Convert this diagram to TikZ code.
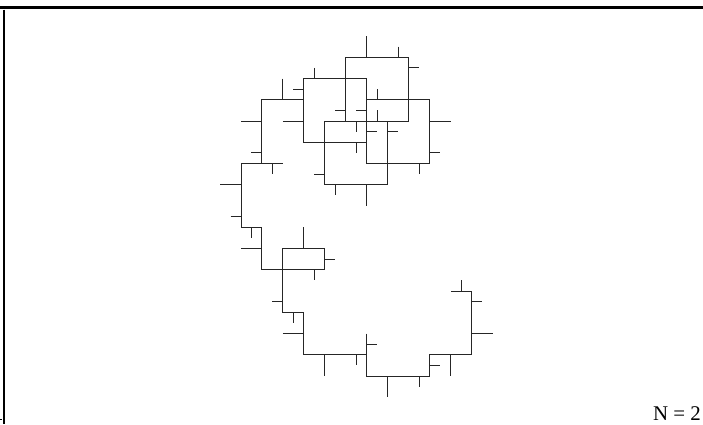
\documentclass[tikz,border=0pt]{standalone}
\usepackage{fontspec}
\setmainfont{Liberation Serif}
\begin{document}
\begin{tikzpicture}[x=1pt,y=-1pt,
  pathline/.style={line width=1pt,draw=black!85,line join=miter},
  tickline/.style={line width=1pt,draw=black!85},
  framebar/.style={line width=3.5pt,draw=black}]
\useasboundingbox (0,0) rectangle (703,424);
\fill[white] (0,0) rectangle (703,424);
% frame
\draw[framebar] (0,7.7) -- (703,7.7);
\draw[line width=2pt] (3.7,9.5) -- (3.7,424);
\fill[black] (0,418.5) rectangle (1.5,420);
\begin{scope}[shift={(241,36)}, x=20.97pt, y=-21.25pt]
% main lattice path
\draw[pathline] (5,4) -- (5,1) -- (8,1) -- (8,4) -- (4,4) -- (4,7) -- (7,7) -- (7,4);
\draw[pathline] (6,6) -- (6,2) -- (3,2) -- (3,5) -- (6,5);
\draw[pathline] (6,3) -- (9,3) -- (9,6) -- (6,6);
\draw[pathline] (3,3) -- (1,3) -- (1,6);
\draw[pathline] (2,6) -- (0,6) -- (0,9) -- (1,9) -- (1,11) -- (4,11) -- (4,10) -- (2,10) -- (2,13) -- (3,13) -- (3,15) -- (6,15);
\draw[pathline] (6,14) -- (6,16) -- (9,16) -- (9,15) -- (11,15) -- (11,12) -- (10,12);
% ticks
\foreach \a/\b/\c/\d in {
  6/0/6/1, 7.5/0.5/7.5/1, 8/1.5/8.5/1.5, 3.5/1.5/3.5/2, 2.5/2.5/3/2.5,
  2/2/2/3, 0/4/1/4, 2/4/3/4, 0.5/5.5/1/5.5, 1.5/6/1.5/6.5,
  -1/7/0/7, -0.5/8.5/0/8.5, 9/4/10/4, 9/5.5/9.5/5.5, 8.5/6/8.5/6.5,
  6.5/2.5/6.5/3, 6.5/3.5/6.5/4, 4.5/3.5/5/3.5, 5.5/3.5/6/3.5,
  5.5/4/5.5/4.5, 5.5/5/5.5/5.5, 6/4.5/6.5/4.5, 7/4.5/7.5/4.5,
  3.5/6.5/4/6.5, 4.5/7/4.5/7.5, 6/7/6/8,
  0.5/9/0.5/9.5, 0/10/1/10, 3/9/3/10, 4/10.5/4.5/10.5, 3.5/11/3.5/11.5,
  1.5/12.5/2/12.5, 2.5/13/2.5/13.5, 2/14/3/14, 4/15/4/16, 5.5/15/5.5/15.5,
  6/14.5/6.5/14.5, 7/16/7/17, 8.5/16/8.5/16.5, 9/15.5/9.5/15.5,
  10/15/10/16, 11/12.5/11.5/12.5, 11/14/12/14, 10.5/11.5/10.5/12}
  \draw[tickline] (\a,\b) -- (\c,\d);
\end{scope}
\node[anchor=base east, font=\fontsize{20.9}{24}\selectfont, inner sep=0pt] (lbl) at (701,420) {N = 2};
\end{tikzpicture}
\end{document}
